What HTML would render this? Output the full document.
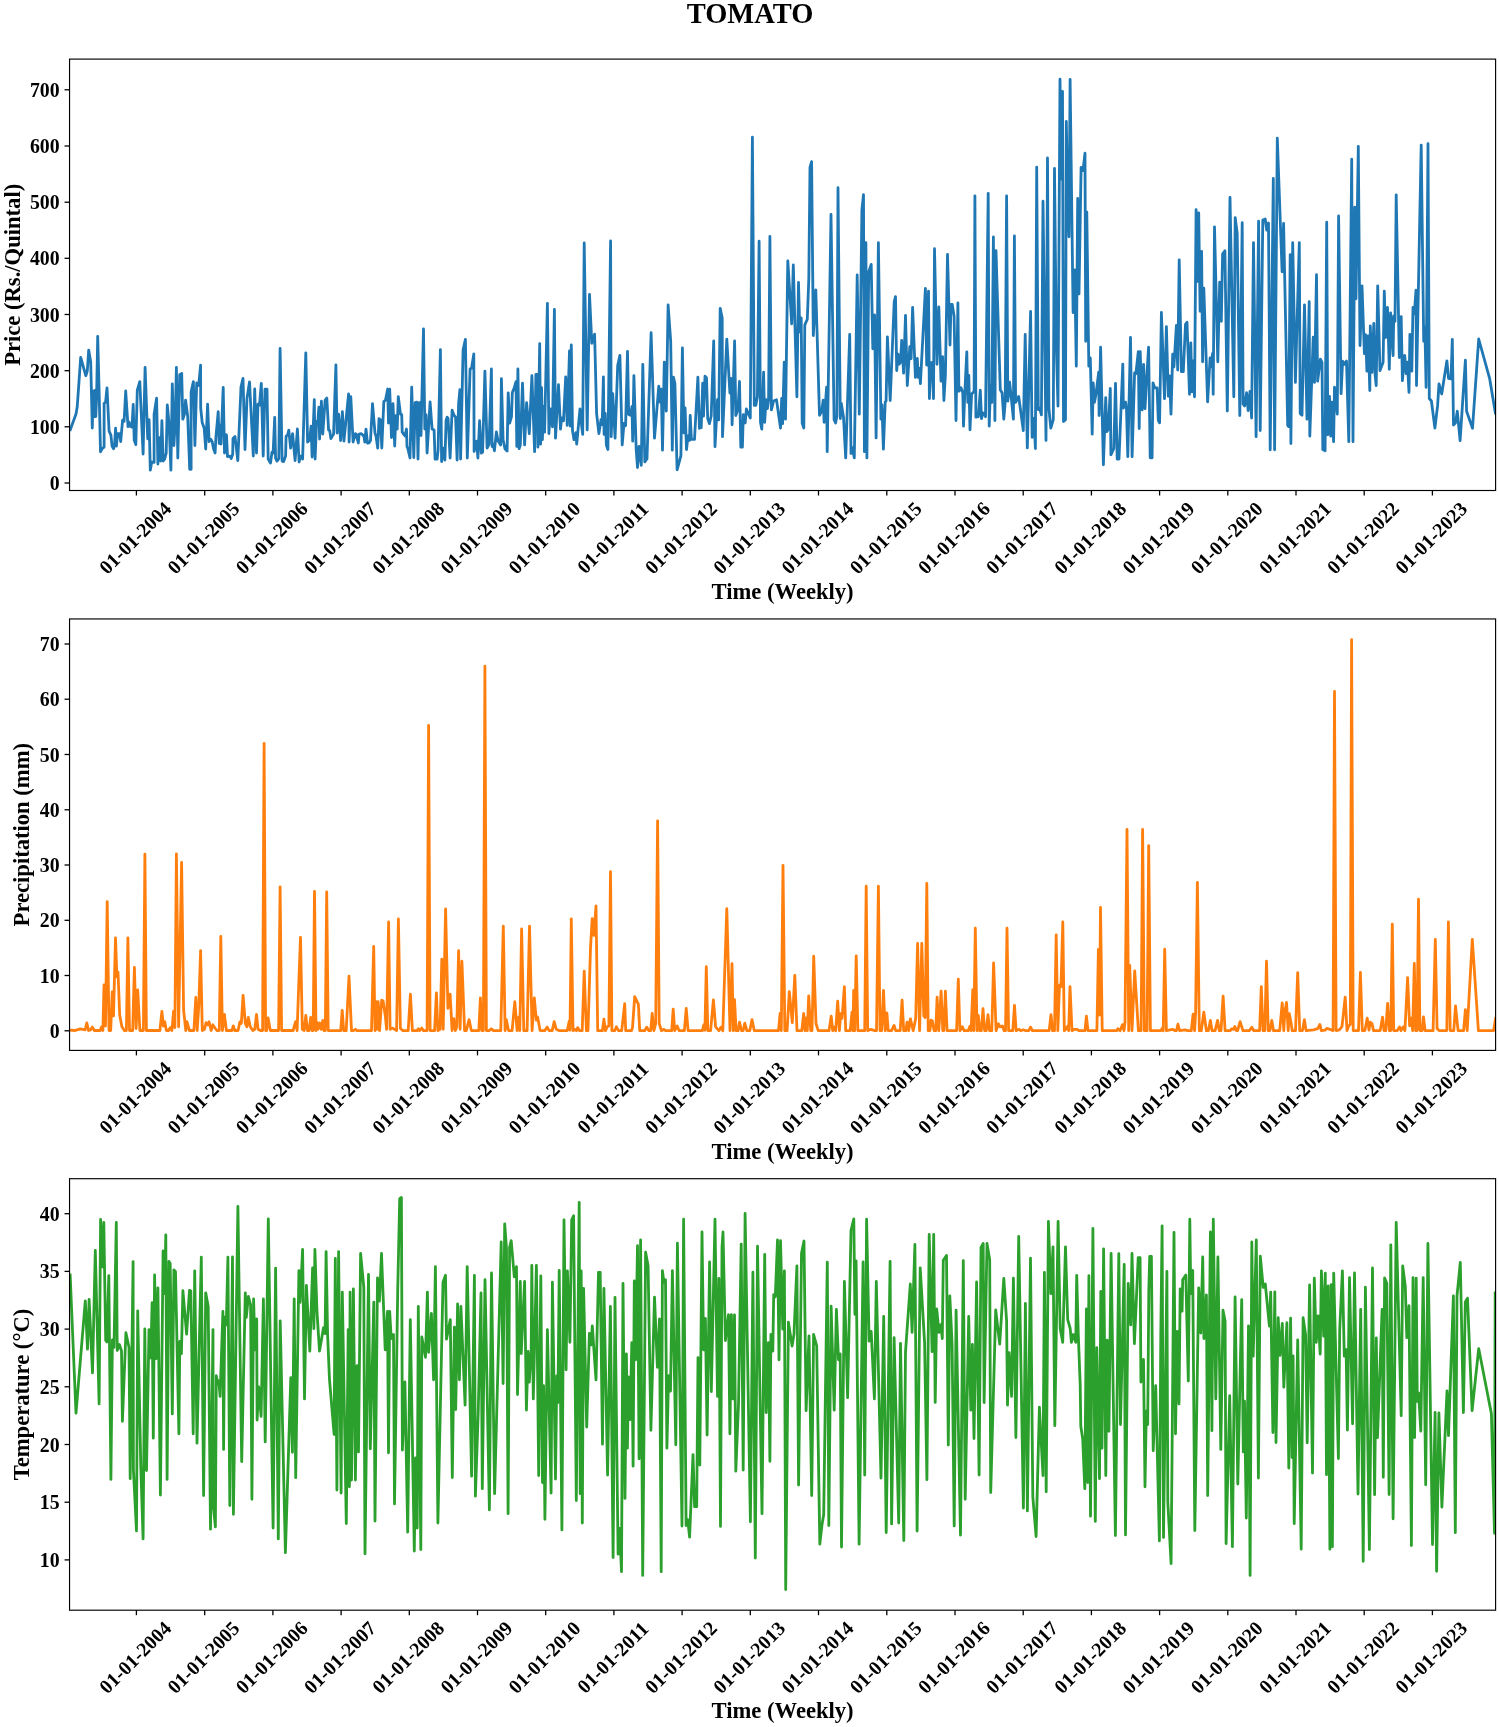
<!DOCTYPE html>
<html><head><meta charset="utf-8"><title>TOMATO</title>
<style>
html,body{margin:0;padding:0;background:#fff;}
svg{display:block;}
svg{will-change:transform;}
text{font-family:"Liberation Serif",serif;font-weight:bold;fill:#000;}
.tk{font-size:19.8px;}
.lb{font-size:22.6px;}
.tt{font-size:28.5px;}
</style></head><body>
<svg width="1499" height="1727" viewBox="0 0 1499 1727">
<rect width="1499" height="1727" fill="#fff"/>
<text class="tt" x="750" y="22.8" text-anchor="middle">TOMATO</text>

<clipPath id="c0"><rect x="69.55" y="59.1" width="1426.05" height="431.4"/></clipPath>
<polyline clip-path="url(#c0)" fill="none" stroke="#1f77b4" stroke-width="2.8" stroke-linejoin="round" stroke-linecap="butt" points="69.8,431.1 76.0,414.1 77.2,407.1 80.7,357.3 85.8,375.7 87.3,371.0 88.7,350.1 90.7,362.0 92.3,428.0 93.2,391.2 94.1,416.5 94.9,390.4 95.8,416.5 96.6,397.1 97.7,336.3 99.1,390.1 100.5,451.8 102.2,448.6 104.1,447.1 104.1,403.3 105.6,402.2 107.0,387.9 109.1,431.1 110.9,435.1 112.1,446.3 113.6,448.8 114.6,444.1 115.6,428.2 116.4,446.2 117.6,433.6 119.6,433.6 120.7,441.6 122.6,420.1 124.1,421.3 125.7,391.0 128.0,426.6 129.1,422.0 130.2,426.3 132.0,427.1 133.2,404.5 134.2,440.1 135.8,444.6 137.3,390.1 139.8,381.6 143.1,454.0 145.1,367.3 147.7,438.8 149.1,419.7 150.3,470.2 151.7,462.1 154.1,462.3 154.1,414.1 156.6,398.2 157.9,464.0 159.5,437.7 160.7,461.0 161.9,420.7 163.2,461.0 164.7,458.9 166.2,453.1 167.3,405.0 169.1,424.1 170.9,470.2 172.3,383.9 173.9,445.5 175.1,424.1 176.4,367.3 177.8,458.0 179.7,374.7 181.7,373.5 182.8,419.2 184.5,414.1 185.6,400.2 187.7,416.3 189.7,469.3 191.1,469.3 191.1,392.1 193.4,381.6 194.9,445.5 196.7,383.0 198.7,385.5 200.6,365.1 200.7,408.1 202.2,422.6 204.2,428.3 205.7,449.0 207.6,404.2 209.1,441.6 210.7,439.1 212.2,441.7 213.6,449.1 215.1,453.0 216.0,436.1 218.2,411.7 219.2,443.5 220.0,425.2 221.0,444.0 223.2,387.3 224.5,453.0 225.5,434.6 226.5,435.1 227.5,456.6 230.0,456.1 231.2,458.5 232.7,454.1 233.0,438.6 235.0,436.6 237.8,460.5 241.0,387.0 243.0,378.3 245.0,449.5 247.0,398.1 249.5,381.9 253.3,456.0 254.7,389.0 256.5,453.0 258.0,404.1 259.5,405.1 261.3,383.3 263.2,456.0 265.0,389.1 267.0,389.1 268.2,459.1 270.5,463.1 272.0,452.1 273.1,453.1 274.7,417.4 275.6,458.1 277.0,461.1 278.8,458.6 280.1,348.3 282.1,461.1 283.6,461.6 285.6,456.1 286.1,436.1 287.6,435.1 288.8,430.2 290.6,448.0 292.6,433.7 295.1,460.5 297.4,429.0 299.1,462.0 300.6,456.2 302.6,459.0 305.8,352.9 307.6,442.1 309.6,440.1 311.1,426.2 312.1,457.0 314.3,399.7 315.1,459.0 316.6,421.2 317.7,423.0 318.9,407.2 319.6,439.0 321.4,401.2 322.8,434.0 325.1,400.1 326.8,398.1 328.6,430.1 329.7,430.6 330.9,438.6 333.6,434.1 335.9,364.9 337.1,433.0 338.6,414.2 340.6,440.5 342.4,411.7 343.9,441.0 348.6,394.0 349.1,442.0 350.8,396.7 353.1,442.0 355.4,433.6 356.2,434.1 358.3,443.0 359.1,434.1 361.1,433.6 363.0,435.1 364.0,436.6 364.8,442.0 366.0,429.2 367.5,443.1 369.0,442.9 370.5,440.6 372.5,403.7 375.0,433.1 376.0,436.1 377.7,448.0 379.0,418.6 380.5,420.1 381.8,448.0 383.8,401.6 385.5,400.1 387.7,389.0 388.5,423.0 389.7,389.2 391.5,437.5 393.0,403.7 394.7,446.0 395.8,415.7 397.2,429.0 398.3,396.7 400.5,414.1 401.7,414.6 402.2,432.1 403.5,434.1 405.0,435.9 406.5,429.0 407.0,446.6 408.0,449.1 410.0,458.0 411.7,387.1 413.8,457.5 415.2,402.6 416.8,402.1 418.0,459.0 419.2,402.6 420.2,402.6 421.0,435.5 423.5,328.9 424.8,429.0 426.1,414.7 427.1,453.0 430.1,402.0 432.1,429.1 434.1,430.1 435.1,459.1 437.1,459.1 438.1,450.1 440.4,349.6 441.6,461.5 443.3,448.2 444.9,460.0 446.1,420.1 447.1,417.1 448.1,418.6 450.1,458.0 452.1,410.2 454.1,415.6 455.6,417.1 457.1,460.0 458.6,404.1 459.9,389.7 460.6,459.0 463.1,350.0 465.4,339.3 467.3,458.0 470.1,369.0 471.6,368.0 473.8,353.9 474.1,451.5 476.6,441.2 477.9,458.0 479.6,420.7 481.3,453.1 482.6,452.1 484.9,371.1 487.1,448.0 489.1,444.1 491.4,368.9 492.1,446.6 493.1,444.1 494.4,450.8 496.4,432.0 498.1,441.1 500.6,445.1 501.4,378.6 503.1,440.1 505.1,449.1 507.1,451.1 508.2,392.9 509.7,423.1 511.5,416.7 512.3,392.6 514.2,388.1 516.0,381.7 516.8,446.4 517.9,368.9 519.1,448.7 520.3,445.3 522.5,383.2 524.6,444.9 526.6,402.7 529.3,433.6 531.9,375.6 534.6,451.7 535.9,374.5 537.1,374.5 537.9,447.2 539.7,343.7 540.6,444.2 541.6,387.7 542.4,439.7 543.4,406.5 544.6,432.1 547.4,303.4 548.9,433.6 550.4,408.8 552.5,426.9 554.4,309.4 555.5,438.2 558.5,384.7 560.5,429.1 561.7,417.8 563.5,420.8 565.7,376.8 567.2,425.4 569.5,350.8 570.2,426.1 571.3,344.8 572.5,430.2 574.0,439.7 576.0,432.8 576.7,444.2 580.0,408.8 580.8,418.9 582.7,434.4 584.2,242.8 587.2,429.9 589.5,294.3 591.8,343.3 594.6,334.2 596.6,413.7 598.9,433.6 601.1,419.3 602.2,424.6 603.4,376.8 604.1,434.4 605.2,413.3 606.4,445.3 607.9,449.5 610.6,240.9 611.2,436.7 612.7,393.7 615.1,438.2 617.7,365.5 619.9,355.3 622.2,444.9 624.0,423.5 625.6,425.7 627.5,351.5 628.7,414.4 630.5,415.2 632.0,406.5 632.7,441.2 633.9,375.6 636.2,449.8 637.5,467.5 639.0,446.4 641.3,465.3 642.8,364.3 644.8,461.9 647.0,458.8 651.1,332.7 654.5,438.2 658.8,386.2 659.8,402.0 661.3,389.2 662.5,450.2 664.3,362.1 666.3,411.1 668.1,304.9 670.7,341.4 672.3,450.2 673.4,377.1 674.9,383.6 677.1,469.8 680.9,455.8 682.4,347.8 683.9,432.9 685.1,408.0 686.5,449.5 688.0,435.9 689.5,440.4 690.2,415.5 691.4,439.3 694.5,439.3 697.9,377.1 699.4,428.4 700.5,411.8 701.2,427.6 702.7,383.2 703.5,416.1 705.0,376.1 706.5,377.9 707.7,418.5 709.4,423.6 711.2,416.0 713.7,341.0 715.0,446.7 717.5,399.6 718.7,419.9 720.2,308.3 722.2,318.0 722.5,436.7 726.8,339.1 729.9,393.0 731.2,378.4 732.1,424.8 734.6,341.0 735.8,415.5 738.0,409.1 739.5,381.5 740.8,447.1 742.4,447.1 743.3,414.6 745.2,423.0 746.4,409.0 748.0,412.9 750.3,418.0 752.4,137.2 754.3,405.4 755.8,405.4 757.4,396.6 759.1,241.2 760.5,422.2 761.8,429.2 763.6,372.2 764.6,422.3 766.1,399.6 767.4,408.6 768.6,399.8 769.9,236.5 771.4,409.9 773.6,401.0 776.5,399.8 780.5,428.0 781.7,398.4 782.6,423.6 784.2,362.2 785.5,419.2 787.8,260.8 791.7,323.8 793.3,264.9 796.9,396.8 798.5,282.3 799.8,331.9 801.2,317.9 802.2,423.4 803.8,428.0 804.8,324.9 807.3,319.3 808.8,278.7 810.0,167.3 811.6,161.6 813.3,335.6 815.8,289.8 819.5,415.3 821.6,411.6 823.2,400.2 824.1,422.3 826.6,387.1 827.2,451.7 831.0,214.5 834.1,419.7 835.6,423.0 836.9,416.0 838.0,187.7 840.3,418.6 841.3,403.3 843.5,417.2 845.7,457.9 849.7,334.5 851.0,453.5 852.4,447.6 854.3,457.9 857.2,274.9 859.3,414.2 861.9,209.8 863.5,194.6 864.4,451.7 865.9,242.7 866.9,457.9 868.7,272.0 871.2,264.4 872.8,348.8 874.6,314.8 876.1,437.9 878.4,242.7 880.9,419.2 881.9,404.6 883.4,449.2 885.2,402.2 886.1,401.0 887.4,336.9 890.2,400.5 894.2,301.8 895.5,296.7 896.7,370.6 898.0,354.1 899.2,364.2 900.5,362.3 901.7,340.4 903.6,373.1 905.5,315.4 907.3,385.5 909.8,346.6 911.1,358.7 912.6,307.3 915.4,377.4 916.4,363.6 917.3,358.4 918.2,377.4 919.3,368.4 920.4,383.7 925.4,288.3 926.7,365.0 928.5,291.1 929.4,398.6 931.0,362.9 932.6,362.3 933.5,398.6 934.5,248.7 937.0,364.3 938.8,307.0 941.0,381.2 942.6,356.6 943.9,400.5 945.4,374.8 947.5,254.5 950.0,345.0 951.0,304.3 952.2,304.3 954.1,316.2 956.0,420.5 957.9,302.9 958.9,391.2 961.0,387.8 962.8,392.9 963.5,426.1 964.7,395.4 966.8,351.8 967.8,402.4 968.8,375.3 970.0,429.8 971.6,394.1 974.1,391.6 974.9,195.8 975.9,417.2 978.4,416.6 980.3,390.2 981.5,418.6 982.8,412.9 984.0,413.5 985.5,416.7 988.2,193.3 989.2,426.1 990.5,385.9 991.8,402.4 993.4,237.0 994.9,420.5 996.0,250.7 997.3,293.7 1000.3,389.8 1002.1,392.9 1003.8,419.2 1005.2,402.2 1006.6,195.8 1007.8,401.1 1009.6,382.1 1011.5,399.8 1013.4,419.2 1014.4,235.8 1015.6,402.4 1018.7,396.5 1023.3,430.5 1025.2,334.5 1027.3,447.9 1030.6,311.4 1032.1,437.3 1034.0,418.3 1035.4,448.5 1036.7,167.1 1038.3,409.7 1039.6,407.9 1041.4,414.9 1043.0,201.2 1046.0,440.4 1047.5,158.0 1048.9,408.5 1050.8,428.0 1053.3,419.7 1054.5,168.4 1056.4,349.9 1058.0,406.1 1060.0,79.1 1061.4,179.1 1062.5,91.5 1063.5,421.6 1065.5,419.7 1066.3,121.5 1067.8,200.2 1069.0,236.8 1070.1,79.5 1073.1,312.6 1074.7,269.9 1076.3,366.2 1077.7,198.4 1079.0,293.9 1081.1,167.3 1083.0,170.5 1085.0,153.2 1085.7,341.3 1086.8,212.2 1088.8,366.2 1090.3,357.8 1092.2,434.2 1093.2,382.8 1094.4,402.4 1095.9,394.8 1098.7,372.2 1099.1,415.5 1100.6,347.2 1103.4,464.8 1105.7,397.7 1106.9,431.6 1108.4,429.1 1110.3,388.4 1110.9,454.8 1113.8,448.4 1115.5,383.4 1117.2,459.0 1119.0,459.0 1122.8,364.1 1123.4,408.0 1125.6,402.1 1126.5,409.1 1127.8,456.7 1130.5,337.5 1132.1,456.7 1134.6,372.8 1135.9,373.7 1138.3,351.6 1139.2,428.6 1140.2,351.6 1142.1,409.9 1143.6,364.4 1145.0,408.6 1146.5,381.7 1148.6,347.2 1150.2,457.8 1152.1,457.8 1153.0,382.8 1154.8,387.9 1157.1,387.9 1158.3,420.3 1159.6,422.8 1161.4,312.5 1164.5,398.6 1166.4,326.6 1168.3,396.1 1169.5,375.9 1171.0,414.2 1172.7,354.1 1173.9,366.8 1176.4,325.4 1177.7,370.0 1179.2,259.8 1181.4,371.7 1183.3,371.7 1185.5,324.3 1187.0,322.2 1189.5,394.3 1190.8,342.8 1192.0,391.8 1193.2,360.9 1194.5,396.8 1196.1,209.6 1197.6,281.4 1198.7,213.0 1200.1,311.3 1201.6,251.4 1202.6,361.8 1203.8,288.1 1207.6,401.8 1210.1,357.8 1210.7,366.8 1212.6,353.4 1213.2,394.3 1214.5,226.8 1217.8,361.8 1219.7,282.1 1221.3,321.3 1222.6,254.0 1224.9,250.7 1227.3,411.1 1230.0,197.3 1233.8,396.8 1235.2,217.6 1237.2,233.5 1239.8,415.5 1242.2,222.7 1243.1,404.1 1244.6,406.0 1246.6,392.7 1248.1,410.5 1250.0,391.5 1251.6,418.0 1253.5,242.7 1256.1,436.7 1258.6,221.2 1260.2,430.5 1262.8,220.0 1265.2,219.0 1266.7,230.0 1268.5,223.0 1270.2,449.8 1273.3,178.5 1274.6,449.8 1277.3,138.2 1282.1,271.8 1283.6,223.5 1287.7,425.3 1288.7,426.6 1290.2,254.6 1290.9,443.6 1292.7,242.7 1295.4,382.4 1299.3,242.7 1300.2,413.5 1302.0,415.3 1304.5,304.8 1307.0,419.2 1309.2,301.7 1309.8,436.1 1313.2,337.2 1314.5,382.4 1316.5,274.7 1317.6,381.2 1320.4,359.1 1322.0,362.3 1322.8,449.6 1325.1,450.9 1326.7,222.2 1327.8,434.8 1329.5,396.5 1330.7,436.1 1332.0,402.1 1333.6,441.7 1334.5,387.1 1337.3,414.2 1338.6,216.0 1341.1,393.7 1342.6,361.1 1344.4,364.2 1346.5,361.1 1348.8,441.7 1351.7,159.2 1353.0,441.7 1354.8,207.2 1356.0,298.8 1358.3,146.4 1360.0,345.6 1362.0,285.8 1364.4,353.7 1365.6,334.7 1366.9,371.2 1368.1,336.0 1369.8,390.5 1370.3,326.0 1371.9,372.4 1373.8,323.3 1375.0,373.6 1376.2,385.5 1377.7,285.8 1380.0,370.6 1383.1,362.3 1384.3,291.1 1385.6,337.5 1387.5,307.3 1389.3,369.3 1390.6,312.9 1393.1,355.6 1393.7,316.0 1395.0,321.3 1396.2,194.8 1399.3,357.5 1401.2,316.6 1402.4,380.6 1404.7,355.3 1406.2,373.7 1407.4,362.2 1409.0,392.4 1409.9,334.5 1411.8,371.2 1413.0,307.3 1414.3,313.8 1416.0,290.1 1416.5,385.5 1421.2,145.1 1423.7,341.3 1424.9,327.2 1426.1,387.4 1428.0,143.7 1429.3,398.5 1431.4,401.0 1434.9,428.0 1437.6,405.7 1439.0,383.8 1441.7,394.0 1446.9,360.8 1448.5,378.3 1451.0,378.9 1452.3,339.3 1453.5,425.0 1455.4,423.1 1457.3,411.2 1460.1,440.7 1465.4,360.1 1466.6,411.3 1472.5,428.3 1478.7,339.0 1489.6,378.3 1495.6,414.4"/>
<rect x="69.55" y="59.1" width="1426.05" height="431.4" fill="none" stroke="#000" stroke-width="1.15"/>
<line x1="64.55" x2="69.55" y1="483.0" y2="483.0" stroke="#000" stroke-width="1.3"/>
<text class="tk" transform="translate(59.65,483.0) scale(1,1.09)" y="6.45" text-anchor="end">0</text>
<line x1="64.55" x2="69.55" y1="426.8" y2="426.8" stroke="#000" stroke-width="1.3"/>
<text class="tk" transform="translate(59.65,426.8) scale(1,1.09)" y="6.45" text-anchor="end">100</text>
<line x1="64.55" x2="69.55" y1="370.7" y2="370.7" stroke="#000" stroke-width="1.3"/>
<text class="tk" transform="translate(59.65,370.7) scale(1,1.09)" y="6.45" text-anchor="end">200</text>
<line x1="64.55" x2="69.55" y1="314.5" y2="314.5" stroke="#000" stroke-width="1.3"/>
<text class="tk" transform="translate(59.65,314.5) scale(1,1.09)" y="6.45" text-anchor="end">300</text>
<line x1="64.55" x2="69.55" y1="258.3" y2="258.3" stroke="#000" stroke-width="1.3"/>
<text class="tk" transform="translate(59.65,258.3) scale(1,1.09)" y="6.45" text-anchor="end">400</text>
<line x1="64.55" x2="69.55" y1="202.2" y2="202.2" stroke="#000" stroke-width="1.3"/>
<text class="tk" transform="translate(59.65,202.2) scale(1,1.09)" y="6.45" text-anchor="end">500</text>
<line x1="64.55" x2="69.55" y1="146.0" y2="146.0" stroke="#000" stroke-width="1.3"/>
<text class="tk" transform="translate(59.65,146.0) scale(1,1.09)" y="6.45" text-anchor="end">600</text>
<line x1="64.55" x2="69.55" y1="89.8" y2="89.8" stroke="#000" stroke-width="1.3"/>
<text class="tk" transform="translate(59.65,89.8) scale(1,1.09)" y="6.45" text-anchor="end">700</text>
<line x1="136.4" x2="136.4" y1="490.5" y2="495.5" stroke="#000" stroke-width="1.3"/>
<text class="tk" transform="translate(135.4,538.0) rotate(-45)" text-anchor="middle" y="6.4">01-01-2004</text>
<line x1="204.7" x2="204.7" y1="490.5" y2="495.5" stroke="#000" stroke-width="1.3"/>
<text class="tk" transform="translate(203.7,538.0) rotate(-45)" text-anchor="middle" y="6.4">01-01-2005</text>
<line x1="272.9" x2="272.9" y1="490.5" y2="495.5" stroke="#000" stroke-width="1.3"/>
<text class="tk" transform="translate(271.9,538.0) rotate(-45)" text-anchor="middle" y="6.4">01-01-2006</text>
<line x1="341.1" x2="341.1" y1="490.5" y2="495.5" stroke="#000" stroke-width="1.3"/>
<text class="tk" transform="translate(340.1,538.0) rotate(-45)" text-anchor="middle" y="6.4">01-01-2007</text>
<line x1="409.3" x2="409.3" y1="490.5" y2="495.5" stroke="#000" stroke-width="1.3"/>
<text class="tk" transform="translate(408.3,538.0) rotate(-45)" text-anchor="middle" y="6.4">01-01-2008</text>
<line x1="477.5" x2="477.5" y1="490.5" y2="495.5" stroke="#000" stroke-width="1.3"/>
<text class="tk" transform="translate(476.5,538.0) rotate(-45)" text-anchor="middle" y="6.4">01-01-2009</text>
<line x1="545.7" x2="545.7" y1="490.5" y2="495.5" stroke="#000" stroke-width="1.3"/>
<text class="tk" transform="translate(544.7,538.0) rotate(-45)" text-anchor="middle" y="6.4">01-01-2010</text>
<line x1="613.9" x2="613.9" y1="490.5" y2="495.5" stroke="#000" stroke-width="1.3"/>
<text class="tk" transform="translate(612.9,538.0) rotate(-45)" text-anchor="middle" y="6.4">01-01-2011</text>
<line x1="682.1" x2="682.1" y1="490.5" y2="495.5" stroke="#000" stroke-width="1.3"/>
<text class="tk" transform="translate(681.1,538.0) rotate(-45)" text-anchor="middle" y="6.4">01-01-2012</text>
<line x1="750.3" x2="750.3" y1="490.5" y2="495.5" stroke="#000" stroke-width="1.3"/>
<text class="tk" transform="translate(749.3,538.0) rotate(-45)" text-anchor="middle" y="6.4">01-01-2013</text>
<line x1="818.5" x2="818.5" y1="490.5" y2="495.5" stroke="#000" stroke-width="1.3"/>
<text class="tk" transform="translate(817.5,538.0) rotate(-45)" text-anchor="middle" y="6.4">01-01-2014</text>
<line x1="886.8" x2="886.8" y1="490.5" y2="495.5" stroke="#000" stroke-width="1.3"/>
<text class="tk" transform="translate(885.8,538.0) rotate(-45)" text-anchor="middle" y="6.4">01-01-2015</text>
<line x1="955.0" x2="955.0" y1="490.5" y2="495.5" stroke="#000" stroke-width="1.3"/>
<text class="tk" transform="translate(954.0,538.0) rotate(-45)" text-anchor="middle" y="6.4">01-01-2016</text>
<line x1="1023.2" x2="1023.2" y1="490.5" y2="495.5" stroke="#000" stroke-width="1.3"/>
<text class="tk" transform="translate(1022.2,538.0) rotate(-45)" text-anchor="middle" y="6.4">01-01-2017</text>
<line x1="1091.4" x2="1091.4" y1="490.5" y2="495.5" stroke="#000" stroke-width="1.3"/>
<text class="tk" transform="translate(1090.4,538.0) rotate(-45)" text-anchor="middle" y="6.4">01-01-2018</text>
<line x1="1159.6" x2="1159.6" y1="490.5" y2="495.5" stroke="#000" stroke-width="1.3"/>
<text class="tk" transform="translate(1158.6,538.0) rotate(-45)" text-anchor="middle" y="6.4">01-01-2019</text>
<line x1="1227.8" x2="1227.8" y1="490.5" y2="495.5" stroke="#000" stroke-width="1.3"/>
<text class="tk" transform="translate(1226.8,538.0) rotate(-45)" text-anchor="middle" y="6.4">01-01-2020</text>
<line x1="1296.0" x2="1296.0" y1="490.5" y2="495.5" stroke="#000" stroke-width="1.3"/>
<text class="tk" transform="translate(1295.0,538.0) rotate(-45)" text-anchor="middle" y="6.4">01-01-2021</text>
<line x1="1364.2" x2="1364.2" y1="490.5" y2="495.5" stroke="#000" stroke-width="1.3"/>
<text class="tk" transform="translate(1363.2,538.0) rotate(-45)" text-anchor="middle" y="6.4">01-01-2022</text>
<line x1="1432.4" x2="1432.4" y1="490.5" y2="495.5" stroke="#000" stroke-width="1.3"/>
<text class="tk" transform="translate(1431.4,538.0) rotate(-45)" text-anchor="middle" y="6.4">01-01-2023</text>
<text class="lb" x="782.6" y="598.7" text-anchor="middle">Time (Weekly)</text>
<text class="lb" transform="translate(20.3,274.8) rotate(-90)" text-anchor="middle">Price (Rs./Quintal)</text>
<clipPath id="c1"><rect x="69.55" y="618.95" width="1426.05" height="431.45000000000005"/></clipPath>
<polyline clip-path="url(#c1)" fill="none" stroke="#ff7f0e" stroke-width="2.8" stroke-linejoin="round" stroke-linecap="butt" points="69.7,1030.1 75.2,1030.5 80.2,1028.8 85.2,1029.8 86.8,1022.9 88.5,1030.5 90.2,1030.1 92.3,1027.1 94.3,1030.5 100.2,1030.5 101.5,1027.0 102.9,1030.5 104.0,985.0 105.5,1026.0 107.2,901.6 109.0,1030.5 110.7,1030.5 112.2,992.0 113.5,1015.9 115.5,937.8 116.9,976.8 118.0,972.0 119.7,1015.1 121.9,1026.8 124.4,1030.5 126.4,1030.5 127.9,937.8 129.5,1030.5 132.7,1030.5 134.4,967.3 136.1,1028.5 137.7,990.0 139.9,1030.5 143.4,1030.5 144.9,854.1 146.4,1030.5 159.9,1030.5 161.9,1011.5 163.4,1026.0 164.7,1021.6 166.4,1030.5 168.6,1030.5 170.2,1027.6 171.9,1030.5 173.6,1011.2 174.9,1027.6 176.4,853.9 178.6,1026.8 181.6,862.3 183.6,1010.1 185.8,1030.5 186.9,1021.6 189.4,1030.5 193.9,1030.5 195.8,997.5 197.2,1030.5 198.8,1005.1 200.6,950.7 202.3,1030.5 204.4,1029.3 206.1,1022.6 207.8,1024.8 209.1,1021.8 211.1,1030.5 212.8,1024.8 215.3,1028.5 216.9,1030.5 219.3,1030.5 220.8,936.5 222.4,1030.5 224.4,1014.5 226.4,1030.5 231.9,1030.5 233.3,1025.9 234.8,1030.5 238.1,1030.5 239.9,1021.8 241.3,1023.5 243.1,995.4 245.3,1023.5 246.9,1026.8 248.3,1017.5 250.3,1026.8 252.8,1030.5 254.8,1029.3 256.5,1014.5 258.1,1029.3 260.3,1030.5 262.6,1030.5 264.1,743.5 265.6,1030.5 266.6,1030.5 268.1,1017.9 270.3,1030.5 278.6,1030.5 280.1,887.0 281.6,1030.5 293.1,1030.5 295.6,1021.6 297.1,1030.5 298.8,983.4 300.5,937.3 302.3,1029.3 304.2,1030.5 305.8,1015.4 307.5,1030.5 309.2,1030.5 310.7,1017.5 312.2,1030.5 313.2,1030.5 314.5,891.5 316.0,1030.6 316.7,1022.1 318.0,1029.3 319.5,1022.9 321.2,1029.3 322.8,1020.4 324.0,1030.6 325.3,1030.6 326.7,892.0 328.2,1030.6 340.7,1030.6 342.2,1010.4 343.7,1030.6 346.2,1030.6 349.0,976.2 351.5,1030.6 353.4,1030.6 355.4,1029.3 357.0,1030.6 371.5,1030.6 373.7,946.5 375.0,1030.6 376.4,1001.7 377.2,1029.3 378.2,1001.7 379.6,1030.6 381.7,1000.1 383.1,1000.9 385.4,1016.8 386.6,1029.3 388.6,922.0 390.1,1029.3 392.1,1028.1 394.6,1029.3 396.6,1030.6 398.4,919.0 400.4,1028.5 402.9,1030.6 408.2,1030.6 410.4,994.2 412.4,1030.6 417.1,1030.6 418.4,1028.8 419.6,1030.6 421.7,1028.1 423.4,1030.6 427.1,1030.6 428.6,725.5 430.1,1030.6 434.6,1030.6 436.4,992.9 437.9,1030.6 440.1,1029.3 441.8,959.2 443.2,1029.3 445.6,909.0 447.9,1008.4 450.1,994.2 452.1,1030.6 453.8,1018.7 455.4,1030.6 456.8,1026.8 458.6,950.7 460.1,1029.3 461.9,961.2 464.6,1030.6 466.3,1030.6 469.1,1019.6 471.3,1030.6 478.8,1030.6 480.4,997.9 481.8,1030.6 483.4,1030.6 484.9,666.1 486.4,1030.6 489.1,1030.6 491.3,1028.8 493.4,1030.6 500.8,1030.6 503.3,926.1 505.1,1030.6 506.3,1019.6 508.5,1030.6 512.1,1030.6 514.8,1001.7 517.1,1030.6 518.8,1017.0 519.8,1030.6 521.6,929.0 523.8,1030.6 527.1,1030.6 529.5,926.1 532.1,1030.6 534.3,997.9 536.3,1020.1 537.6,1017.0 540.1,1030.6 544.7,1030.6 547.2,1027.1 549.2,1030.6 552.2,1030.6 554.2,1021.6 556.3,1029.3 558.8,1030.6 567.2,1030.7 569.2,1021.2 570.0,1030.2 571.3,919.0 573.0,1030.7 574.7,1029.3 576.4,1030.7 577.7,1027.6 579.4,1030.7 582.2,1030.7 584.2,971.2 586.4,1030.7 588.0,1030.7 590.5,948.4 592.2,918.7 593.9,935.4 596.0,905.8 597.7,1030.7 602.4,1030.7 603.9,1019.2 605.5,1030.7 607.2,1026.8 608.9,1026.0 610.5,871.6 611.9,1030.7 614.7,1030.7 616.4,1026.8 618.4,1030.7 621.7,1030.7 624.7,1003.7 625.7,1030.7 631.4,1030.7 632.5,1027.7 634.7,996.6 638.4,1004.3 639.7,1030.7 644.7,1030.7 646.7,1027.1 648.9,1030.7 650.7,1030.7 652.2,1013.4 653.9,1030.7 655.7,1023.5 657.6,820.8 659.2,1023.5 661.4,1030.7 663.9,1029.3 665.6,1030.7 671.7,1030.7 673.2,1009.2 674.7,1030.7 677.2,1026.0 679.2,1030.7 684.4,1030.7 686.2,1008.4 688.1,1030.7 702.4,1030.7 703.9,1024.6 704.9,1030.2 706.3,966.7 707.8,1030.7 710.6,1030.7 713.4,999.9 715.6,1026.8 718.9,1030.7 721.1,1027.1 722.8,1030.7 726.8,908.7 730.0,1030.7 732.0,963.7 733.3,1030.7 734.5,999.6 736.1,1030.7 738.1,1030.7 739.5,1022.1 741.5,1030.7 743.1,1030.7 744.8,1023.2 746.8,1030.7 749.8,1030.7 752.0,1019.6 754.3,1030.7 778.5,1030.7 780.1,1013.4 781.3,1030.7 783.0,865.3 784.8,1030.7 787.1,1030.7 789.3,991.6 792.3,1022.6 794.8,975.4 797.0,1030.7 801.8,1030.7 803.7,1013.4 805.0,1030.7 806.5,1017.9 807.3,1030.7 808.7,995.9 810.7,1030.7 812.0,1030.7 813.7,956.2 816.0,1023.5 818.2,1030.7 829.0,1030.7 831.2,1016.2 832.7,1030.7 834.0,1027.1 835.7,1030.7 837.7,1001.2 839.4,1030.7 840.7,1013.7 842.0,1018.5 844.4,986.7 845.7,1030.7 850.2,1030.7 852.0,1012.1 852.9,1030.7 853.7,990.4 854.7,1030.7 856.2,955.9 857.9,1030.7 864.7,1030.7 866.2,886.2 867.7,1030.7 870.7,1029.3 874.9,1030.7 876.5,1030.7 878.4,886.2 880.0,1030.7 881.7,1030.7 883.5,990.4 885.2,1030.7 886.9,1012.9 888.2,1030.7 891.6,1030.7 894.1,1025.4 895.7,1030.7 900.2,1030.7 902.1,1000.1 903.7,1030.7 905.7,1030.7 907.1,1022.1 908.7,1030.7 910.4,1018.8 913.2,1030.7 915.7,1018.5 917.6,943.4 919.6,1030.7 921.8,943.4 923.8,1016.0 925.2,1017.6 926.8,883.3 928.2,1030.7 929.9,1030.7 931.1,1020.1 932.4,1021.0 934.1,1030.7 935.8,1030.7 937.1,997.1 938.8,1030.7 941.1,991.2 942.8,1030.7 943.8,1030.7 945.4,991.2 947.1,1030.7 956.6,1030.7 958.3,979.1 959.9,1030.7 962.4,1026.8 964.1,1030.7 968.3,1030.7 969.9,1026.2 971.1,1030.7 972.8,989.6 973.8,1030.7 975.3,928.2 977.0,1030.7 978.3,1015.4 979.6,1030.7 981.3,1030.7 983.0,1008.7 984.6,1030.7 986.3,1030.7 988.0,1014.6 989.5,1030.7 991.8,1030.7 993.6,962.9 996.1,1030.7 998.3,1023.8 1000.0,1026.8 1002.5,1026.0 1004.1,1030.7 1005.5,1030.7 1007.0,928.2 1008.6,1030.7 1012.8,1030.7 1014.5,1005.4 1016.1,1030.7 1019.1,1029.3 1020.8,1030.7 1023.3,1029.8 1025.8,1030.7 1028.8,1030.7 1030.5,1027.1 1032.5,1030.7 1049.2,1030.7 1051.0,1014.6 1052.5,1030.7 1054.5,1030.7 1056.2,935.0 1057.8,1030.7 1059.5,985.1 1061.0,986.5 1062.8,922.0 1064.3,1030.7 1065.8,1029.3 1067.8,1026.0 1068.7,1030.7 1070.0,986.7 1072.0,1030.7 1074.2,1029.3 1076.7,1029.3 1079.2,1030.7 1085.0,1030.7 1086.4,1016.2 1088.0,1030.7 1096.9,1030.7 1098.4,949.5 1099.5,1015.1 1100.5,907.3 1102.2,1030.7 1116.7,1030.7 1117.9,1028.8 1120.0,1030.7 1122.5,1024.6 1124.0,1030.7 1125.0,1021.8 1127.0,829.5 1128.7,1030.7 1129.7,965.4 1132.0,1030.7 1134.7,970.9 1138.4,1030.7 1141.1,1030.7 1142.6,829.5 1144.4,1030.7 1147.1,1030.7 1148.7,845.6 1150.4,1030.7 1160.9,1030.7 1162.1,1028.5 1163.2,1030.7 1164.7,949.2 1166.4,1030.7 1170.1,1029.8 1172.6,1029.3 1175.1,1030.7 1176.4,1030.7 1177.9,1024.2 1179.6,1030.7 1185.1,1029.8 1187.6,1030.7 1191.3,1030.7 1193.1,1014.1 1194.6,1030.7 1195.6,1012.6 1197.4,882.3 1199.3,1030.7 1201.3,1030.7 1203.8,1012.1 1206.4,1030.7 1208.4,1030.7 1210.4,1020.4 1212.1,1030.7 1215.1,1030.7 1217.6,1020.4 1219.3,1030.7 1221.0,1030.7 1223.1,996.2 1225.1,1030.7 1230.1,1030.7 1231.8,1028.8 1233.5,1029.3 1234.8,1026.5 1236.5,1030.7 1237.6,1030.7 1240.1,1021.6 1243.0,1030.7 1249.3,1030.7 1251.8,1027.3 1253.8,1030.7 1259.6,1030.7 1261.3,986.7 1263.0,1030.7 1264.8,1030.7 1266.5,961.2 1268.2,1030.7 1269.8,1030.7 1271.8,1020.4 1273.5,1030.7 1279.7,1030.7 1282.2,1002.9 1283.8,1030.7 1284.8,1012.6 1286.5,1002.4 1288.2,1030.7 1289.3,1013.7 1291.0,1022.6 1292.2,1030.7 1295.5,1030.7 1297.7,972.6 1299.7,1030.7 1302.5,1030.6 1304.4,1019.7 1306.1,1030.6 1313.4,1029.9 1317.7,1028.7 1319.9,1024.4 1321.3,1030.6 1325.0,1030.2 1326.7,1028.4 1330.0,1029.4 1333.1,1030.6 1334.5,691.4 1336.1,1030.6 1339.4,1029.9 1342.0,1026.5 1345.2,997.2 1347.0,1030.6 1348.8,1025.8 1350.3,1024.4 1351.6,639.6 1353.2,1030.6 1358.5,1030.6 1360.4,972.4 1362.3,1030.6 1364.9,1030.6 1367.2,1018.2 1369.1,1030.2 1370.1,1022.2 1372.0,1023.6 1373.5,1030.6 1380.2,1030.6 1382.6,1017.1 1384.0,1030.6 1385.8,1030.6 1387.6,1003.3 1389.4,1030.6 1390.8,1030.6 1392.3,924.1 1393.7,1030.6 1397.3,1030.6 1399.5,1026.9 1401.0,1030.6 1403.1,1026.9 1404.9,1030.6 1407.6,977.7 1409.6,1025.8 1411.1,1018.2 1412.7,1030.6 1414.3,963.5 1415.7,1030.6 1417.0,1030.6 1418.5,899.1 1419.9,1030.6 1422.1,1030.6 1423.5,1016.8 1425.1,1030.6 1433.1,1030.6 1435.3,939.4 1437.1,1028.7 1439.3,1030.6 1446.8,1030.6 1448.4,922.0 1450.2,1030.6 1453.8,1030.6 1455.5,1005.9 1458.1,1030.6 1463.6,1030.6 1465.4,1009.6 1467.2,1030.6 1472.3,939.4 1478.4,1030.6 1493.6,1030.6 1495.8,1017.1"/>
<rect x="69.55" y="618.95" width="1426.05" height="431.45000000000005" fill="none" stroke="#000" stroke-width="1.15"/>
<line x1="64.55" x2="69.55" y1="1030.8" y2="1030.8" stroke="#000" stroke-width="1.3"/>
<text class="tk" transform="translate(59.65,1030.8) scale(1,1.09)" y="6.45" text-anchor="end">0</text>
<line x1="64.55" x2="69.55" y1="975.5" y2="975.5" stroke="#000" stroke-width="1.3"/>
<text class="tk" transform="translate(59.65,975.5) scale(1,1.09)" y="6.45" text-anchor="end">10</text>
<line x1="64.55" x2="69.55" y1="920.3" y2="920.3" stroke="#000" stroke-width="1.3"/>
<text class="tk" transform="translate(59.65,920.3) scale(1,1.09)" y="6.45" text-anchor="end">20</text>
<line x1="64.55" x2="69.55" y1="865.0" y2="865.0" stroke="#000" stroke-width="1.3"/>
<text class="tk" transform="translate(59.65,865.0) scale(1,1.09)" y="6.45" text-anchor="end">30</text>
<line x1="64.55" x2="69.55" y1="809.8" y2="809.8" stroke="#000" stroke-width="1.3"/>
<text class="tk" transform="translate(59.65,809.8) scale(1,1.09)" y="6.45" text-anchor="end">40</text>
<line x1="64.55" x2="69.55" y1="754.5" y2="754.5" stroke="#000" stroke-width="1.3"/>
<text class="tk" transform="translate(59.65,754.5) scale(1,1.09)" y="6.45" text-anchor="end">50</text>
<line x1="64.55" x2="69.55" y1="699.2" y2="699.2" stroke="#000" stroke-width="1.3"/>
<text class="tk" transform="translate(59.65,699.2) scale(1,1.09)" y="6.45" text-anchor="end">60</text>
<line x1="64.55" x2="69.55" y1="644.0" y2="644.0" stroke="#000" stroke-width="1.3"/>
<text class="tk" transform="translate(59.65,644.0) scale(1,1.09)" y="6.45" text-anchor="end">70</text>
<line x1="136.4" x2="136.4" y1="1050.4" y2="1055.4" stroke="#000" stroke-width="1.3"/>
<text class="tk" transform="translate(135.4,1097.9) rotate(-45)" text-anchor="middle" y="6.4">01-01-2004</text>
<line x1="204.7" x2="204.7" y1="1050.4" y2="1055.4" stroke="#000" stroke-width="1.3"/>
<text class="tk" transform="translate(203.7,1097.9) rotate(-45)" text-anchor="middle" y="6.4">01-01-2005</text>
<line x1="272.9" x2="272.9" y1="1050.4" y2="1055.4" stroke="#000" stroke-width="1.3"/>
<text class="tk" transform="translate(271.9,1097.9) rotate(-45)" text-anchor="middle" y="6.4">01-01-2006</text>
<line x1="341.1" x2="341.1" y1="1050.4" y2="1055.4" stroke="#000" stroke-width="1.3"/>
<text class="tk" transform="translate(340.1,1097.9) rotate(-45)" text-anchor="middle" y="6.4">01-01-2007</text>
<line x1="409.3" x2="409.3" y1="1050.4" y2="1055.4" stroke="#000" stroke-width="1.3"/>
<text class="tk" transform="translate(408.3,1097.9) rotate(-45)" text-anchor="middle" y="6.4">01-01-2008</text>
<line x1="477.5" x2="477.5" y1="1050.4" y2="1055.4" stroke="#000" stroke-width="1.3"/>
<text class="tk" transform="translate(476.5,1097.9) rotate(-45)" text-anchor="middle" y="6.4">01-01-2009</text>
<line x1="545.7" x2="545.7" y1="1050.4" y2="1055.4" stroke="#000" stroke-width="1.3"/>
<text class="tk" transform="translate(544.7,1097.9) rotate(-45)" text-anchor="middle" y="6.4">01-01-2010</text>
<line x1="613.9" x2="613.9" y1="1050.4" y2="1055.4" stroke="#000" stroke-width="1.3"/>
<text class="tk" transform="translate(612.9,1097.9) rotate(-45)" text-anchor="middle" y="6.4">01-01-2011</text>
<line x1="682.1" x2="682.1" y1="1050.4" y2="1055.4" stroke="#000" stroke-width="1.3"/>
<text class="tk" transform="translate(681.1,1097.9) rotate(-45)" text-anchor="middle" y="6.4">01-01-2012</text>
<line x1="750.3" x2="750.3" y1="1050.4" y2="1055.4" stroke="#000" stroke-width="1.3"/>
<text class="tk" transform="translate(749.3,1097.9) rotate(-45)" text-anchor="middle" y="6.4">01-01-2013</text>
<line x1="818.5" x2="818.5" y1="1050.4" y2="1055.4" stroke="#000" stroke-width="1.3"/>
<text class="tk" transform="translate(817.5,1097.9) rotate(-45)" text-anchor="middle" y="6.4">01-01-2014</text>
<line x1="886.8" x2="886.8" y1="1050.4" y2="1055.4" stroke="#000" stroke-width="1.3"/>
<text class="tk" transform="translate(885.8,1097.9) rotate(-45)" text-anchor="middle" y="6.4">01-01-2015</text>
<line x1="955.0" x2="955.0" y1="1050.4" y2="1055.4" stroke="#000" stroke-width="1.3"/>
<text class="tk" transform="translate(954.0,1097.9) rotate(-45)" text-anchor="middle" y="6.4">01-01-2016</text>
<line x1="1023.2" x2="1023.2" y1="1050.4" y2="1055.4" stroke="#000" stroke-width="1.3"/>
<text class="tk" transform="translate(1022.2,1097.9) rotate(-45)" text-anchor="middle" y="6.4">01-01-2017</text>
<line x1="1091.4" x2="1091.4" y1="1050.4" y2="1055.4" stroke="#000" stroke-width="1.3"/>
<text class="tk" transform="translate(1090.4,1097.9) rotate(-45)" text-anchor="middle" y="6.4">01-01-2018</text>
<line x1="1159.6" x2="1159.6" y1="1050.4" y2="1055.4" stroke="#000" stroke-width="1.3"/>
<text class="tk" transform="translate(1158.6,1097.9) rotate(-45)" text-anchor="middle" y="6.4">01-01-2019</text>
<line x1="1227.8" x2="1227.8" y1="1050.4" y2="1055.4" stroke="#000" stroke-width="1.3"/>
<text class="tk" transform="translate(1226.8,1097.9) rotate(-45)" text-anchor="middle" y="6.4">01-01-2020</text>
<line x1="1296.0" x2="1296.0" y1="1050.4" y2="1055.4" stroke="#000" stroke-width="1.3"/>
<text class="tk" transform="translate(1295.0,1097.9) rotate(-45)" text-anchor="middle" y="6.4">01-01-2021</text>
<line x1="1364.2" x2="1364.2" y1="1050.4" y2="1055.4" stroke="#000" stroke-width="1.3"/>
<text class="tk" transform="translate(1363.2,1097.9) rotate(-45)" text-anchor="middle" y="6.4">01-01-2022</text>
<line x1="1432.4" x2="1432.4" y1="1050.4" y2="1055.4" stroke="#000" stroke-width="1.3"/>
<text class="tk" transform="translate(1431.4,1097.9) rotate(-45)" text-anchor="middle" y="6.4">01-01-2023</text>
<text class="lb" x="782.6" y="1158.6" text-anchor="middle">Time (Weekly)</text>
<text class="lb" transform="translate(29.3,834.7) rotate(-90)" text-anchor="middle">Precipitation (mm)</text>
<clipPath id="c2"><rect x="69.55" y="1178.7" width="1426.05" height="431.5"/></clipPath>
<polyline clip-path="url(#c2)" fill="none" stroke="#2ca02c" stroke-width="2.8" stroke-linejoin="round" stroke-linecap="butt" points="70.1,1273.6 76.0,1413.2 85.3,1300.9 87.5,1349.2 89.1,1299.4 92.5,1372.9 95.3,1250.3 99.1,1403.9 100.6,1219.5 102.2,1266.9 103.8,1222.5 105.7,1340.3 106.9,1341.9 108.8,1275.7 110.9,1479.4 112.4,1339.8 114.0,1347.3 116.3,1222.5 117.2,1350.4 119.4,1344.5 121.5,1350.9 122.4,1421.3 125.9,1332.7 129.0,1347.2 130.2,1478.7 133.1,1261.6 133.4,1469.8 136.5,1530.9 137.7,1310.8 140.8,1467.3 143.1,1538.9 144.8,1328.9 146.5,1470.6 149.0,1329.6 150.8,1357.9 152.1,1302.7 153.3,1438.2 154.6,1274.9 156.1,1358.6 157.9,1287.8 160.4,1495.0 163.1,1251.0 164.6,1293.7 165.8,1234.8 167.1,1479.4 168.9,1261.3 170.2,1263.6 172.3,1413.9 173.9,1269.8 175.5,1271.7 178.9,1433.8 179.8,1341.4 181.4,1353.6 182.9,1290.6 186.6,1334.2 189.5,1290.4 190.8,1290.8 193.2,1433.8 194.7,1270.9 197.0,1443.2 201.3,1257.2 203.6,1495.6 205.7,1292.8 208.2,1306.6 210.5,1529.2 213.0,1329.6 213.2,1504.8 215.4,1526.8 216.3,1375.7 217.6,1383.5 218.8,1380.7 220.1,1396.4 222.9,1311.5 223.6,1449.4 224.7,1317.1 226.3,1324.9 227.9,1257.2 229.8,1505.6 232.5,1257.0 233.4,1514.3 237.9,1206.3 241.7,1461.6 245.3,1292.8 246.3,1317.4 248.4,1296.5 250.6,1304.8 251.9,1499.3 253.6,1299.0 255.0,1349.8 256.7,1319.0 257.1,1420.1 258.7,1386.9 261.1,1416.4 263.4,1299.0 265.2,1441.9 268.3,1218.8 273.1,1528.0 275.6,1268.1 278.3,1538.9 280.2,1320.8 285.4,1552.6 290.8,1377.6 292.4,1452.3 294.2,1299.0 295.7,1477.7 298.9,1270.7 300.1,1302.4 302.6,1249.5 304.5,1398.9 306.4,1285.3 309.8,1351.1 312.6,1267.8 313.9,1328.6 314.9,1249.5 317.0,1312.2 319.5,1351.1 323.5,1327.7 325.1,1333.6 326.1,1251.6 327.6,1334.7 329.5,1379.6 334.1,1434.4 335.3,1258.4 336.9,1490.0 338.6,1251.6 341.1,1493.1 342.3,1292.1 346.3,1523.6 348.2,1329.6 349.4,1486.8 350.1,1292.1 351.5,1480.0 353.4,1289.0 355.4,1480.0 357.0,1365.7 358.5,1451.9 360.6,1253.5 363.8,1287.3 365.0,1553.8 368.5,1274.4 370.3,1448.8 373.8,1302.1 375.0,1521.1 377.5,1277.8 379.4,1301.2 381.5,1253.5 385.2,1349.8 387.5,1311.5 388.5,1452.8 389.7,1311.5 391.2,1338.6 393.5,1334.5 394.5,1503.9 397.7,1291.0 399.7,1198.7 401.4,1197.5 402.4,1450.0 404.9,1382.0 407.7,1532.1 410.3,1319.6 414.3,1551.1 415.5,1457.8 417.2,1528.0 418.3,1306.5 420.8,1549.6 421.8,1337.0 425.5,1357.3 427.4,1292.1 428.6,1352.3 431.4,1313.3 433.6,1379.8 435.4,1266.6 437.9,1523.0 443.0,1282.3 445.5,1275.3 446.5,1339.2 450.3,1319.6 452.3,1477.5 454.4,1327.1 455.7,1409.5 457.6,1304.0 459.4,1379.8 460.9,1306.5 465.1,1405.1 467.2,1266.6 471.6,1476.2 474.4,1275.3 475.4,1496.2 478.2,1412.5 481.0,1293.0 482.3,1488.7 485.0,1279.7 489.4,1509.9 491.5,1273.0 494.6,1493.7 501.2,1241.9 503.1,1383.5 504.7,1223.9 506.5,1248.6 508.1,1513.7 509.6,1247.4 511.2,1240.7 514.3,1276.8 516.5,1266.6 517.5,1394.5 520.3,1281.5 521.2,1353.6 524.6,1281.5 526.4,1410.1 528.1,1351.4 529.3,1382.2 531.2,1350.9 531.8,1265.3 533.3,1398.9 536.4,1265.3 538.7,1475.6 540.8,1275.9 542.5,1482.5 543.6,1385.7 544.9,1519.3 547.4,1329.6 551.1,1493.1 552.4,1282.2 555.5,1479.1 556.8,1375.7 557.9,1402.6 559.2,1270.3 561.9,1529.9 564.0,1219.8 566.1,1369.8 567.4,1270.9 569.9,1342.3 571.7,1219.9 573.6,1215.8 576.3,1500.6 579.2,1202.3 580.2,1493.7 581.2,1270.9 582.3,1523.0 583.6,1288.4 586.7,1427.0 589.4,1333.3 591.1,1344.8 592.3,1325.8 596.0,1379.8 598.5,1272.3 600.2,1272.3 602.5,1444.2 603.9,1288.4 607.6,1475.0 610.4,1306.5 613.1,1557.6 615.0,1297.5 618.1,1554.2 619.6,1528.3 621.5,1571.7 623.0,1283.4 625.0,1498.4 626.4,1353.9 627.4,1448.2 628.5,1377.0 630.1,1419.5 631.8,1342.7 633.1,1466.2 634.3,1280.9 635.6,1359.8 637.5,1245.7 639.1,1458.8 640.6,1240.0 642.7,1575.4 645.6,1252.2 648.1,1266.1 650.9,1430.3 654.5,1297.1 657.4,1367.3 659.5,1319.0 661.2,1571.7 662.4,1270.7 663.9,1282.3 665.5,1279.8 666.9,1448.2 668.6,1375.7 670.5,1391.0 672.4,1270.7 675.8,1444.8 677.4,1243.2 682.0,1526.1 683.6,1219.2 686.1,1525.5 687.7,1519.6 689.6,1537.1 693.0,1454.7 694.6,1506.7 696.7,1506.7 698.0,1357.6 699.8,1465.0 702.0,1232.0 703.6,1349.8 705.4,1318.3 707.1,1435.1 709.6,1261.9 711.3,1391.6 715.0,1219.2 717.5,1396.4 718.9,1278.4 720.5,1526.4 722.0,1247.4 723.0,1232.0 725.4,1340.5 728.5,1314.6 729.9,1433.8 731.4,1314.6 733.0,1398.9 734.5,1314.8 735.8,1471.2 738.5,1403.7 741.2,1244.1 743.2,1470.0 745.1,1213.5 750.4,1521.8 752.9,1272.2 755.3,1558.0 757.5,1246.2 762.0,1513.7 764.7,1254.5 766.2,1412.6 768.4,1342.7 769.9,1461.3 770.9,1334.5 772.8,1351.1 773.7,1294.6 775.3,1296.8 777.5,1240.0 779.0,1359.8 780.5,1240.7 782.8,1329.2 784.4,1270.9 785.7,1589.5 788.4,1322.1 792.1,1346.1 794.0,1334.1 796.9,1265.9 798.6,1485.0 801.5,1253.4 804.0,1241.0 806.1,1410.7 809.0,1335.8 811.7,1495.6 813.6,1334.5 816.7,1345.9 819.8,1544.2 822.0,1524.7 823.7,1514.5 827.3,1262.2 828.8,1525.5 831.1,1306.1 834.2,1410.1 836.4,1309.3 838.5,1359.8 840.2,1353.9 841.5,1547.1 844.4,1281.5 847.6,1397.6 851.0,1230.5 853.8,1218.8 854.9,1314.3 856.1,1260.9 859.1,1544.2 863.1,1261.9 864.7,1475.0 866.6,1219.2 869.1,1341.1 871.2,1331.4 874.4,1398.9 876.3,1281.5 881.0,1478.1 883.7,1316.5 886.2,1532.6 890.1,1261.3 891.6,1523.9 894.1,1337.7 898.7,1523.0 900.5,1343.5 903.8,1540.5 905.5,1352.2 910.3,1284.0 912.1,1332.4 914.9,1244.5 917.1,1531.1 920.2,1267.8 924.6,1342.8 926.9,1479.7 929.2,1234.5 932.1,1351.7 933.7,1234.5 935.2,1402.4 936.7,1309.0 939.0,1332.4 940.8,1324.6 942.3,1338.6 943.3,1260.2 946.5,1255.5 948.3,1445.1 949.8,1295.9 952.1,1344.1 954.2,1525.9 956.1,1310.2 960.5,1535.1 963.3,1260.7 965.2,1499.3 968.7,1316.5 970.8,1410.1 972.4,1344.5 974.0,1438.6 976.6,1281.9 979.1,1475.0 981.0,1247.4 983.2,1243.5 984.1,1402.6 987.0,1243.5 989.7,1259.8 990.7,1492.5 995.7,1310.0 999.7,1344.2 1003.8,1278.4 1006.6,1321.0 1007.5,1405.1 1009.1,1352.6 1011.6,1396.4 1013.4,1278.2 1015.9,1437.6 1018.7,1236.4 1023.4,1508.1 1025.4,1303.4 1027.4,1510.9 1030.5,1258.2 1032.8,1496.7 1036.1,1536.5 1039.4,1407.1 1043.0,1475.6 1044.4,1272.5 1046.2,1491.8 1048.4,1221.4 1050.9,1293.7 1053.0,1246.8 1054.8,1425.7 1058.1,1221.4 1060.2,1328.5 1062.7,1342.3 1065.5,1246.8 1067.7,1319.7 1070.2,1328.5 1071.4,1342.3 1073.3,1334.5 1075.8,1342.3 1076.7,1275.3 1078.3,1334.7 1080.2,1384.6 1080.8,1426.2 1082.7,1438.7 1084.8,1488.7 1086.4,1309.0 1087.7,1482.5 1088.9,1275.7 1090.5,1516.2 1092.9,1228.5 1095.3,1521.4 1096.8,1347.6 1099.5,1478.7 1100.8,1291.5 1102.0,1448.2 1103.6,1248.8 1105.8,1475.6 1107.2,1340.2 1108.9,1431.3 1111.1,1253.5 1115.4,1535.5 1118.8,1253.7 1120.5,1424.5 1124.2,1264.4 1125.5,1534.9 1128.2,1283.4 1130.7,1324.9 1132.0,1253.5 1134.4,1343.6 1138.2,1257.7 1140.1,1257.7 1140.9,1382.1 1141.9,1379.6 1143.5,1359.5 1145.0,1486.8 1146.3,1411.1 1147.7,1424.5 1148.8,1290.4 1149.7,1256.5 1151.4,1256.5 1153.2,1450.7 1155.7,1385.7 1159.4,1540.9 1160.8,1333.5 1162.1,1225.8 1163.5,1537.4 1166.9,1271.3 1167.8,1501.7 1171.1,1563.6 1174.0,1232.5 1175.5,1433.8 1177.2,1331.4 1179.0,1403.9 1180.2,1289.0 1182.1,1311.1 1182.7,1279.8 1185.8,1275.1 1188.3,1381.0 1189.8,1219.2 1190.8,1293.7 1192.7,1270.3 1194.8,1530.5 1198.7,1287.8 1200.8,1333.0 1202.7,1257.0 1203.9,1338.6 1206.4,1294.9 1207.7,1495.6 1210.4,1232.0 1211.9,1430.7 1213.3,1219.2 1215.8,1398.9 1217.9,1257.0 1220.8,1449.4 1223.0,1310.2 1225.1,1321.0 1226.1,1543.6 1229.7,1395.7 1232.4,1546.7 1235.1,1296.9 1237.8,1484.0 1241.7,1299.6 1243.3,1451.9 1244.5,1401.1 1246.3,1518.0 1248.5,1325.8 1250.1,1575.4 1251.8,1241.9 1253.2,1356.1 1256.3,1240.0 1258.4,1478.1 1260.3,1256.2 1263.2,1287.4 1265.3,1284.0 1269.4,1326.1 1270.7,1292.1 1272.9,1432.6 1274.8,1291.9 1276.0,1442.6 1278.2,1317.7 1280.0,1355.4 1282.3,1323.3 1283.8,1387.2 1286.9,1322.7 1288.8,1468.1 1290.6,1318.1 1292.1,1457.5 1293.1,1355.8 1294.2,1523.6 1297.7,1339.8 1301.2,1549.2 1303.1,1317.7 1305.6,1334.7 1307.2,1442.8 1309.6,1285.0 1312.5,1473.1 1314.3,1278.2 1316.2,1342.3 1318.1,1315.8 1320.2,1354.2 1321.4,1270.9 1323.7,1336.1 1325.3,1273.2 1326.5,1474.7 1328.2,1285.9 1329.9,1549.2 1331.2,1284.6 1332.4,1546.7 1333.7,1273.2 1338.4,1458.5 1339.7,1329.7 1342.4,1270.9 1344.3,1356.1 1346.1,1349.5 1347.4,1430.1 1349.5,1277.6 1352.6,1423.8 1354.5,1272.9 1358.0,1494.1 1360.7,1309.3 1363.2,1561.3 1365.4,1287.2 1369.4,1549.5 1372.5,1267.9 1374.6,1494.7 1376.3,1338.0 1377.5,1437.5 1382.1,1309.3 1383.3,1477.3 1384.6,1278.0 1386.8,1283.3 1389.1,1494.5 1390.8,1244.9 1393.1,1518.8 1396.2,1222.4 1401.2,1415.7 1402.7,1265.8 1405.3,1286.5 1406.8,1337.7 1409.0,1305.6 1411.4,1545.5 1413.0,1277.6 1414.6,1437.5 1416.2,1278.2 1417.3,1401.4 1418.6,1392.8 1420.8,1431.2 1423.2,1277.6 1425.7,1484.8 1427.9,1243.4 1432.5,1544.5 1435.1,1412.3 1436.6,1571.3 1438.9,1412.9 1441.9,1507.2 1447.0,1390.9 1448.5,1435.6 1453.4,1295.9 1455.3,1532.7 1457.0,1295.8 1460.3,1262.3 1463.4,1412.6 1465.3,1302.0 1467.5,1298.3 1472.1,1410.7 1478.7,1348.6 1491.4,1413.7 1494.5,1533.3 1495.2,1291.4"/>
<rect x="69.55" y="1178.7" width="1426.05" height="431.5" fill="none" stroke="#000" stroke-width="1.15"/>
<line x1="64.55" x2="69.55" y1="1559.9" y2="1559.9" stroke="#000" stroke-width="1.3"/>
<text class="tk" transform="translate(59.65,1559.9) scale(1,1.09)" y="6.45" text-anchor="end">10</text>
<line x1="64.55" x2="69.55" y1="1502.2" y2="1502.2" stroke="#000" stroke-width="1.3"/>
<text class="tk" transform="translate(59.65,1502.2) scale(1,1.09)" y="6.45" text-anchor="end">15</text>
<line x1="64.55" x2="69.55" y1="1444.5" y2="1444.5" stroke="#000" stroke-width="1.3"/>
<text class="tk" transform="translate(59.65,1444.5) scale(1,1.09)" y="6.45" text-anchor="end">20</text>
<line x1="64.55" x2="69.55" y1="1386.8" y2="1386.8" stroke="#000" stroke-width="1.3"/>
<text class="tk" transform="translate(59.65,1386.8) scale(1,1.09)" y="6.45" text-anchor="end">25</text>
<line x1="64.55" x2="69.55" y1="1329.1" y2="1329.1" stroke="#000" stroke-width="1.3"/>
<text class="tk" transform="translate(59.65,1329.1) scale(1,1.09)" y="6.45" text-anchor="end">30</text>
<line x1="64.55" x2="69.55" y1="1271.4" y2="1271.4" stroke="#000" stroke-width="1.3"/>
<text class="tk" transform="translate(59.65,1271.4) scale(1,1.09)" y="6.45" text-anchor="end">35</text>
<line x1="64.55" x2="69.55" y1="1213.7" y2="1213.7" stroke="#000" stroke-width="1.3"/>
<text class="tk" transform="translate(59.65,1213.7) scale(1,1.09)" y="6.45" text-anchor="end">40</text>
<line x1="136.4" x2="136.4" y1="1610.2" y2="1615.2" stroke="#000" stroke-width="1.3"/>
<text class="tk" transform="translate(135.4,1657.7) rotate(-45)" text-anchor="middle" y="6.4">01-01-2004</text>
<line x1="204.7" x2="204.7" y1="1610.2" y2="1615.2" stroke="#000" stroke-width="1.3"/>
<text class="tk" transform="translate(203.7,1657.7) rotate(-45)" text-anchor="middle" y="6.4">01-01-2005</text>
<line x1="272.9" x2="272.9" y1="1610.2" y2="1615.2" stroke="#000" stroke-width="1.3"/>
<text class="tk" transform="translate(271.9,1657.7) rotate(-45)" text-anchor="middle" y="6.4">01-01-2006</text>
<line x1="341.1" x2="341.1" y1="1610.2" y2="1615.2" stroke="#000" stroke-width="1.3"/>
<text class="tk" transform="translate(340.1,1657.7) rotate(-45)" text-anchor="middle" y="6.4">01-01-2007</text>
<line x1="409.3" x2="409.3" y1="1610.2" y2="1615.2" stroke="#000" stroke-width="1.3"/>
<text class="tk" transform="translate(408.3,1657.7) rotate(-45)" text-anchor="middle" y="6.4">01-01-2008</text>
<line x1="477.5" x2="477.5" y1="1610.2" y2="1615.2" stroke="#000" stroke-width="1.3"/>
<text class="tk" transform="translate(476.5,1657.7) rotate(-45)" text-anchor="middle" y="6.4">01-01-2009</text>
<line x1="545.7" x2="545.7" y1="1610.2" y2="1615.2" stroke="#000" stroke-width="1.3"/>
<text class="tk" transform="translate(544.7,1657.7) rotate(-45)" text-anchor="middle" y="6.4">01-01-2010</text>
<line x1="613.9" x2="613.9" y1="1610.2" y2="1615.2" stroke="#000" stroke-width="1.3"/>
<text class="tk" transform="translate(612.9,1657.7) rotate(-45)" text-anchor="middle" y="6.4">01-01-2011</text>
<line x1="682.1" x2="682.1" y1="1610.2" y2="1615.2" stroke="#000" stroke-width="1.3"/>
<text class="tk" transform="translate(681.1,1657.7) rotate(-45)" text-anchor="middle" y="6.4">01-01-2012</text>
<line x1="750.3" x2="750.3" y1="1610.2" y2="1615.2" stroke="#000" stroke-width="1.3"/>
<text class="tk" transform="translate(749.3,1657.7) rotate(-45)" text-anchor="middle" y="6.4">01-01-2013</text>
<line x1="818.5" x2="818.5" y1="1610.2" y2="1615.2" stroke="#000" stroke-width="1.3"/>
<text class="tk" transform="translate(817.5,1657.7) rotate(-45)" text-anchor="middle" y="6.4">01-01-2014</text>
<line x1="886.8" x2="886.8" y1="1610.2" y2="1615.2" stroke="#000" stroke-width="1.3"/>
<text class="tk" transform="translate(885.8,1657.7) rotate(-45)" text-anchor="middle" y="6.4">01-01-2015</text>
<line x1="955.0" x2="955.0" y1="1610.2" y2="1615.2" stroke="#000" stroke-width="1.3"/>
<text class="tk" transform="translate(954.0,1657.7) rotate(-45)" text-anchor="middle" y="6.4">01-01-2016</text>
<line x1="1023.2" x2="1023.2" y1="1610.2" y2="1615.2" stroke="#000" stroke-width="1.3"/>
<text class="tk" transform="translate(1022.2,1657.7) rotate(-45)" text-anchor="middle" y="6.4">01-01-2017</text>
<line x1="1091.4" x2="1091.4" y1="1610.2" y2="1615.2" stroke="#000" stroke-width="1.3"/>
<text class="tk" transform="translate(1090.4,1657.7) rotate(-45)" text-anchor="middle" y="6.4">01-01-2018</text>
<line x1="1159.6" x2="1159.6" y1="1610.2" y2="1615.2" stroke="#000" stroke-width="1.3"/>
<text class="tk" transform="translate(1158.6,1657.7) rotate(-45)" text-anchor="middle" y="6.4">01-01-2019</text>
<line x1="1227.8" x2="1227.8" y1="1610.2" y2="1615.2" stroke="#000" stroke-width="1.3"/>
<text class="tk" transform="translate(1226.8,1657.7) rotate(-45)" text-anchor="middle" y="6.4">01-01-2020</text>
<line x1="1296.0" x2="1296.0" y1="1610.2" y2="1615.2" stroke="#000" stroke-width="1.3"/>
<text class="tk" transform="translate(1295.0,1657.7) rotate(-45)" text-anchor="middle" y="6.4">01-01-2021</text>
<line x1="1364.2" x2="1364.2" y1="1610.2" y2="1615.2" stroke="#000" stroke-width="1.3"/>
<text class="tk" transform="translate(1363.2,1657.7) rotate(-45)" text-anchor="middle" y="6.4">01-01-2022</text>
<line x1="1432.4" x2="1432.4" y1="1610.2" y2="1615.2" stroke="#000" stroke-width="1.3"/>
<text class="tk" transform="translate(1431.4,1657.7) rotate(-45)" text-anchor="middle" y="6.4">01-01-2023</text>
<text class="lb" x="782.6" y="1718.4" text-anchor="middle">Time (Weekly)</text>
<text class="lb" transform="translate(29.3,1394.5) rotate(-90)" text-anchor="middle">Temperature (°C)</text>
</svg></body></html>
